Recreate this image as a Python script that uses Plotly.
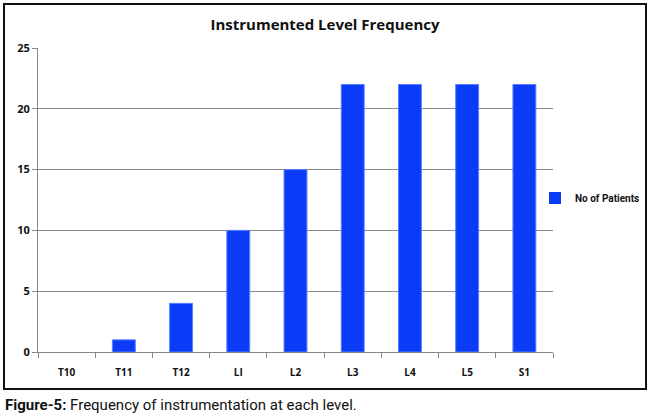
import plotly.graph_objects as go

levels = ["T10", "T11", "T12", "LI", "L2", "L3", "L4", "L5", "S1"]
patients = [0, 1, 4, 10, 15, 22, 22, 22, 22]
y_ticks = [0, 5, 10, 15, 20, 25]

fig = go.Figure()
fig.add_trace(go.Bar(
    x=levels, y=patients, name="No of Patients",
    marker=dict(color="#0a3cf7",
                line=dict(color="#5c7dff", width=[0 if v == 0 else 1 for v in patients])),
    width=0.4,
))

L, R, T, B = 38, 97, 48, 66
W, H = 650, 418
pw, ph = W - L - R, H - T - B

def px2x(px):
    return (px - L) / pw

def py2y(py):
    return (H - B - py) / ph

tf = dict(family="Open Sans, sans-serif", size=10, color="#111", weight="bold")

fig.update_layout(
    width=W, height=H,
    margin=dict(l=L, r=R, t=T, b=B, autoexpand=False),
    paper_bgcolor="white", plot_bgcolor="white",
    title=dict(text="<b>Instrumented Level Frequency</b>", x=px2x(325), xanchor="center",
               xref="paper", y=1 - 25 / H, yanchor="middle",
               font=dict(family="Open Sans, Lato, sans-serif", size=15, color="#111")),
    showlegend=True,
    legend=dict(x=px2x(535), y=py2y(198), xanchor="left", yanchor="middle",
                font=dict(family="Roboto, sans-serif", size=10, color="#111", weight="bold"),
                itemwidth=30, bgcolor="rgba(0,0,0,0)"),
    xaxis=dict(type="category", showline=True, linecolor="#888", linewidth=1,
               ticks="outside", tickson="boundaries", ticklen=5, tickcolor="#888",
               tickfont=tf, showgrid=False, ticklabelstandoff=11),
    yaxis=dict(range=[0, 25], tickvals=y_ticks, showline=True, linecolor="#888",
               linewidth=1, ticks="outside", ticklen=5, tickcolor="#888",
               gridcolor="#8a8a8a", gridwidth=1, zeroline=False,
               tickfont=dict(family="Open Sans, sans-serif", size=11, color="#111", weight="bold")),
    font=dict(family="Open Sans, sans-serif"),
)

# border box around chart
fig.add_shape(type="rect", xref="paper", yref="paper",
              x0=px2x(4), x1=px2x(646), y0=py2y(389), y1=py2y(4),
              line=dict(color="#111", width=2), fillcolor="rgba(0,0,0,0)", layer="below")

fig.add_annotation(
    xref="paper", yref="paper", x=px2x(3), y=py2y(405), xanchor="left", yanchor="middle",
    showarrow=False,
    text="<b>Figure-5:</b> Frequency of instrumentation at each level.",
    font=dict(family="Roboto, sans-serif", size=15, color="#111"),
)

fig.write_html("out.html", config={"displayModeBar": False},
               post_script="document.body.style.margin='0';document.body.style.padding='0';")
